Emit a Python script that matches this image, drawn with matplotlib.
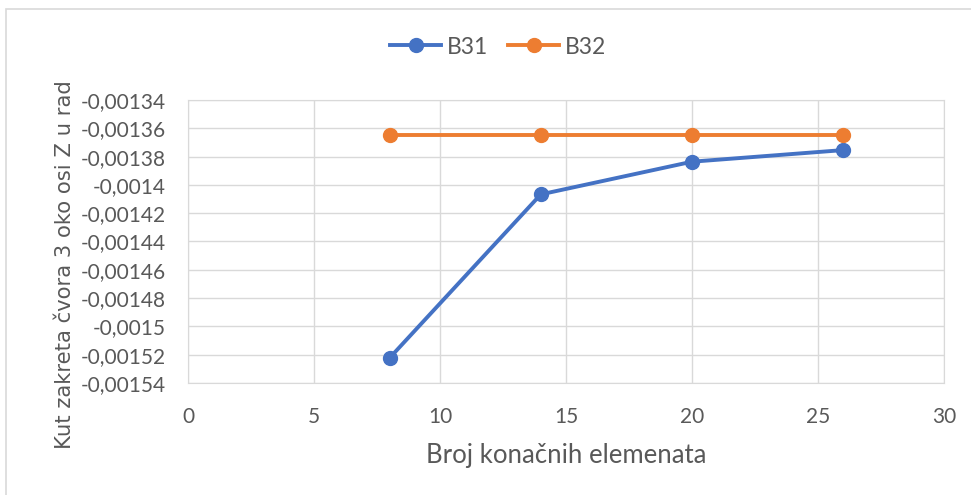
import matplotlib.pyplot as plt
from matplotlib.patches import Rectangle
from matplotlib.ticker import FuncFormatter, MultipleLocator

# broj konačnih elemenata
elements = [8, 14, 20, 26]
b31 = [-0.0015223, -0.0014067, -0.0013836, -0.0013754]
b32 = [-0.001365, -0.001365, -0.001365, -0.001365]

W, H = 971, 495
fig = plt.figure(figsize=(W / 100, H / 100), dpi=100)
text_col = '#595959'
grid_col = '#d9d9d9'
font = ['Lato', 'DejaVu Sans']

# okvir grafikona
fig.patches.append(Rectangle((6 / W, -0.05), 1, 1.05 - 9 / H, transform=fig.transFigure,
                             fill=False, edgecolor='#d9d9d9', linewidth=1.2))

ax = fig.add_axes([188 / W, 1 - 383 / H, (944 - 188) / W, (383 - 100) / H])
ax.plot(elements, b31, color='#4472c4', linewidth=2.8, marker='o', markersize=10, label='B31')
ax.plot(elements, b32, color='#ed7d31', linewidth=2.8, marker='o', markersize=10, label='B32')

ax.set_xlim(0, 30)
ax.set_ylim(-0.00154, -0.00134)
ax.xaxis.set_major_locator(MultipleLocator(5))
ax.yaxis.set_major_locator(MultipleLocator(0.00002))


def comma_fmt(v, pos):
    s = ('%.5f' % v).rstrip('0').rstrip('.')
    return s.replace('.', ',')


ax.yaxis.set_major_formatter(FuncFormatter(comma_fmt))
ax.grid(True, color=grid_col, linewidth=1)
ax.set_axisbelow(True)
for sp in ax.spines.values():
    sp.set_color(grid_col)
ax.tick_params(length=0, labelsize=15, labelcolor=text_col)
for lbl in ax.get_xticklabels() + ax.get_yticklabels():
    lbl.set_family(font)
ax.tick_params(axis='y', pad=16)
ax.tick_params(axis='x', pad=17)

ax.set_xlabel('Broj konačnih elemenata', fontsize=18.5, color=text_col, family=font, labelpad=12)
ax.set_ylabel('Kut zakreta čvora 3 oko osi Z u rad', fontsize=15.2, color=text_col,
              family=['DejaVu Sans'])
ax.yaxis.set_label_coords(-(188 - 75) / (944 - 188), 0.417)

leg = fig.legend(loc='center', bbox_to_anchor=(498 / W, 1 - 47 / H), ncol=2, frameon=False,
                 prop={'family': font, 'size': 16.5}, handlelength=2.2, columnspacing=0.9,
                 handletextpad=0.25)
for t in leg.get_texts():
    t.set_color(text_col)

fig.savefig('out.png', dpi=100)
